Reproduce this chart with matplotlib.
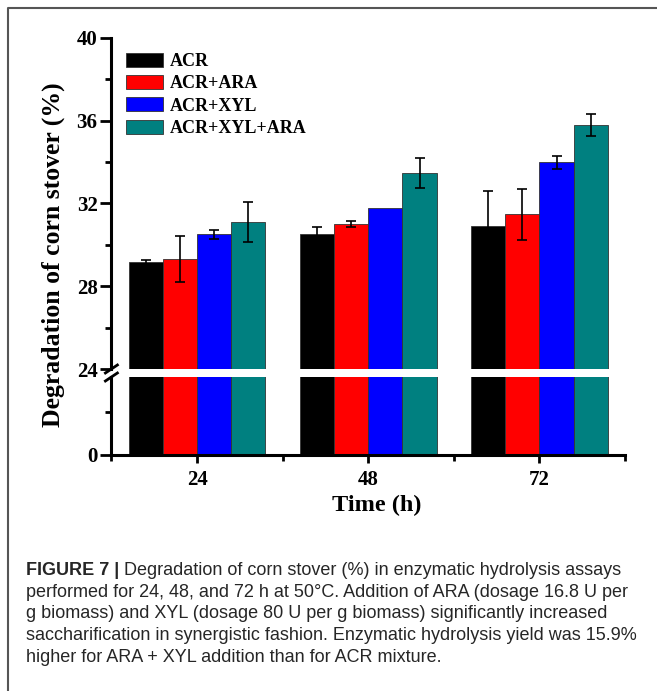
import matplotlib.pyplot as plt
import numpy as np
from matplotlib.ticker import MultipleLocator, FixedLocator
from matplotlib.lines import Line2D

# data (degradation %, error = +/-)
times = [24, 48, 72]
series = ["ACR", "ACR+ARA", "ACR+XYL", "ACR+XYL+ARA"]
acr = [29.18, 30.50, 30.91]
acr_err = [0.10, 0.37, 1.67]
acr_ara = [29.30, 30.99, 31.47]
acr_ara_err = [1.10, 0.14, 1.22]
acr_xyl = [30.50, 31.79, 33.98]
acr_xyl_err = [0.20, 0.0, 0.31]
acr_xyl_ara = [31.09, 33.48, 35.79]
acr_xyl_ara_err = [0.96, 0.72, 0.52]

colors = ["#000000", "#ff0000", "#0000ff", "#008080"]
values = [acr, acr_ara, acr_xyl, acr_xyl_ara]
errors = [acr_err, acr_ara_err, acr_xyl_err, acr_xyl_ara_err]

caption_head = "FIGURE 7 | "
caption_lines = [
    "Degradation of corn stover (%) in enzymatic hydrolysis assays",
    "performed for 24, 48, and 72 h at 50°C. Addition of ARA (dosage 16.8 U per",
    "g biomass) and XYL (dosage 80 U per g biomass) significantly increased",
    "saccharification in synergistic fashion. Enzymatic hydrolysis yield was 15.9%",
    "higher for ARA + XYL addition than for ACR mixture.",
]

W, H = 657, 691
fig = plt.figure(figsize=(W / 100, H / 100), dpi=100)


def fx(px):
    return px / W


def fy(py):
    return 1 - py / H


serif = "Liberation Serif"
x0, x1 = 111.4, 625
ax_top = fig.add_axes([fx(x0), fy(369), fx(x1) - fx(x0), fy(37.7) - fy(369)])
ax_bot = fig.add_axes([fx(x0), fy(455), fx(x1) - fx(x0), fy(377) - fy(455)])

bar_w = 4.8
offsets = [-7.2, -2.4, 2.4, 7.2]
t = np.array(times)
for ax in (ax_top, ax_bot):
    for i in range(4):
        ax.bar(t + offsets[i], values[i], width=bar_w, color=colors[i],
               edgecolor="#333333", linewidth=0.6, label=series[i], zorder=2)
        v = np.array(values[i])
        e = np.array(errors[i])
        m = e > 0
        ax.errorbar((t + offsets[i])[m], v[m], yerr=e[m], fmt="none",
                    ecolor="black", elinewidth=1.2, capsize=3.5,
                    capthick=1.2, zorder=3)
    ax.set_xlim(12, 84)
    for s in ("top", "right"):
        ax.spines[s].set_visible(False)
    for s in ("left", "bottom"):
        ax.spines[s].set_linewidth(2.2)

ax_top.set_ylim(24, 40)
ax_top.spines["bottom"].set_visible(False)
ax_top.yaxis.set_major_locator(MultipleLocator(4))
ax_top.yaxis.set_minor_locator(MultipleLocator(2))
ax_top.tick_params(axis="x", which="both", bottom=False, labelbottom=False)
ax_top.tick_params(axis="y", which="major", direction="out", length=8, width=2,
                   pad=2, labelsize=15)
ax_top.tick_params(axis="y", which="minor", direction="out", length=4, width=2)

ax_bot.set_ylim(0, 21.8)
ax_bot.yaxis.set_major_locator(FixedLocator([0]))
ax_bot.yaxis.set_minor_locator(FixedLocator([12]))
ax_bot.xaxis.set_major_locator(FixedLocator(times))
ax_bot.xaxis.set_minor_locator(FixedLocator([12, 36, 60, 84]))
ax_bot.tick_params(axis="y", which="major", direction="out", length=8, width=2,
                   pad=2, labelsize=15)
ax_bot.tick_params(axis="y", which="minor", direction="out", length=4, width=2)
ax_bot.tick_params(axis="x", which="major", direction="out", length=6, width=2,
                   pad=5, labelsize=15)
ax_bot.tick_params(axis="x", which="minor", direction="out", length=4, width=2)

for ax in (ax_top, ax_bot):
    for lab in ax.get_xticklabels() + ax.get_yticklabels():
        lab.set_fontfamily(serif)
        lab.set_fontweight("bold")

# axis break marks
for yc in (369, 377):
    fig.add_artist(Line2D([fx(x0 - 6), fx(x0 + 6)], [fy(yc + 4), fy(yc - 4)],
                          color="black", lw=2))

fig.text(fx(53), fy(255), "Degradation of corn stover (%)", rotation=90,
         ha="center", va="center", fontsize=18.5, fontweight="bold", family=serif)
fig.text(fx(377), fy(505), "Time (h)", ha="center", va="center",
         fontsize=17.5, fontweight="bold", family=serif)

handles, labels = ax_top.get_legend_handles_labels()
fig.legend(handles, labels, loc="upper left",
           bbox_to_anchor=(fx(126), fy(53)), frameon=False,
           prop={"family": serif, "weight": "bold", "size": 13},
           handlelength=2.05, handleheight=0.8, handletextpad=0.35,
           labelspacing=0.28, borderpad=0, borderaxespad=0)

# caption
cap_font = "Liberation Sans"
cap_color = "#262626"
cap_size = 13
baselines = [575, 597, 618.5, 640, 662]
head = fig.text(fx(26), fy(baselines[0]), caption_head, fontsize=cap_size,
                fontweight="bold", family=cap_font, color=cap_color,
                va="baseline")
fig.canvas.draw()
head_w = head.get_window_extent().width
fig.text(fx(26) + head_w / W, fy(baselines[0]), caption_lines[0],
         fontsize=cap_size, family=cap_font, color=cap_color, va="baseline")
for line, yb in zip(caption_lines[1:], baselines[1:]):
    fig.text(fx(26), fy(yb), line, fontsize=cap_size, family=cap_font,
             color=cap_color, va="baseline")

# outer frame
fig.add_artist(Line2D([fx(8), fx(8), 1], [0, fy(8), fy(8)],
                      color="#555555", lw=1.5))

fig.savefig("out.png", dpi=100)
